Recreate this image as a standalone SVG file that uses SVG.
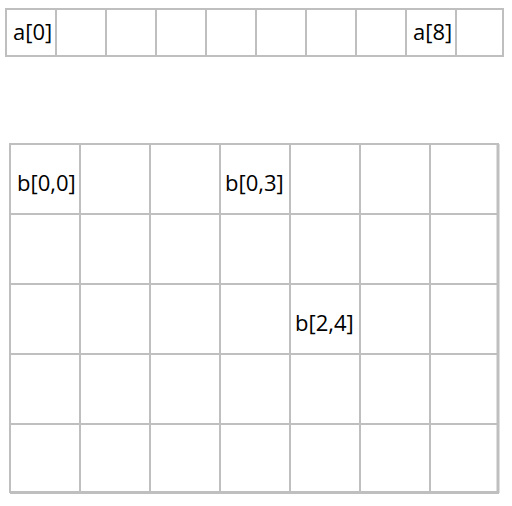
<svg xmlns="http://www.w3.org/2000/svg" width="512" height="506" viewBox="0 0 512 506">
<style>
.g{stroke:#bfbfbf;stroke-width:2;fill:none}
.t{font-family:"Open Sans","Liberation Sans",sans-serif;font-size:22px;fill:#000}
</style>
<rect width="512" height="506" fill="#fff"/>
<g id="array-a">
<rect class="g" x="6" y="9" width="497" height="47"/>
<path class="g" d="M56 9V56M106 9V56M156 9V56M206 9V56M256 9V56M306 9V56M356 9V56M406 9V56M456 9V56"/>
<text class="t" x="13" y="40">a[0]</text>
<text class="t" x="413" y="40">a[8]</text>
</g>
<g id="array-b">
<rect class="g" x="10" y="144" width="488" height="348"/>
<path class="g" d="M498 144V493M10 492.5H499" style="stroke-width:3"/>
<path class="g" d="M80 144V492M150 144V492M220 144V492M290 144V492M360 144V492M430 144V492M10 214H498M10 284H498M10 354H498M10 424H498"/>
<text class="t" x="17" y="191">b[0,0]</text>
<text class="t" x="225" y="191">b[0,3]</text>
<text class="t" x="295" y="331">b[2,4]</text>
</g>
</svg>
